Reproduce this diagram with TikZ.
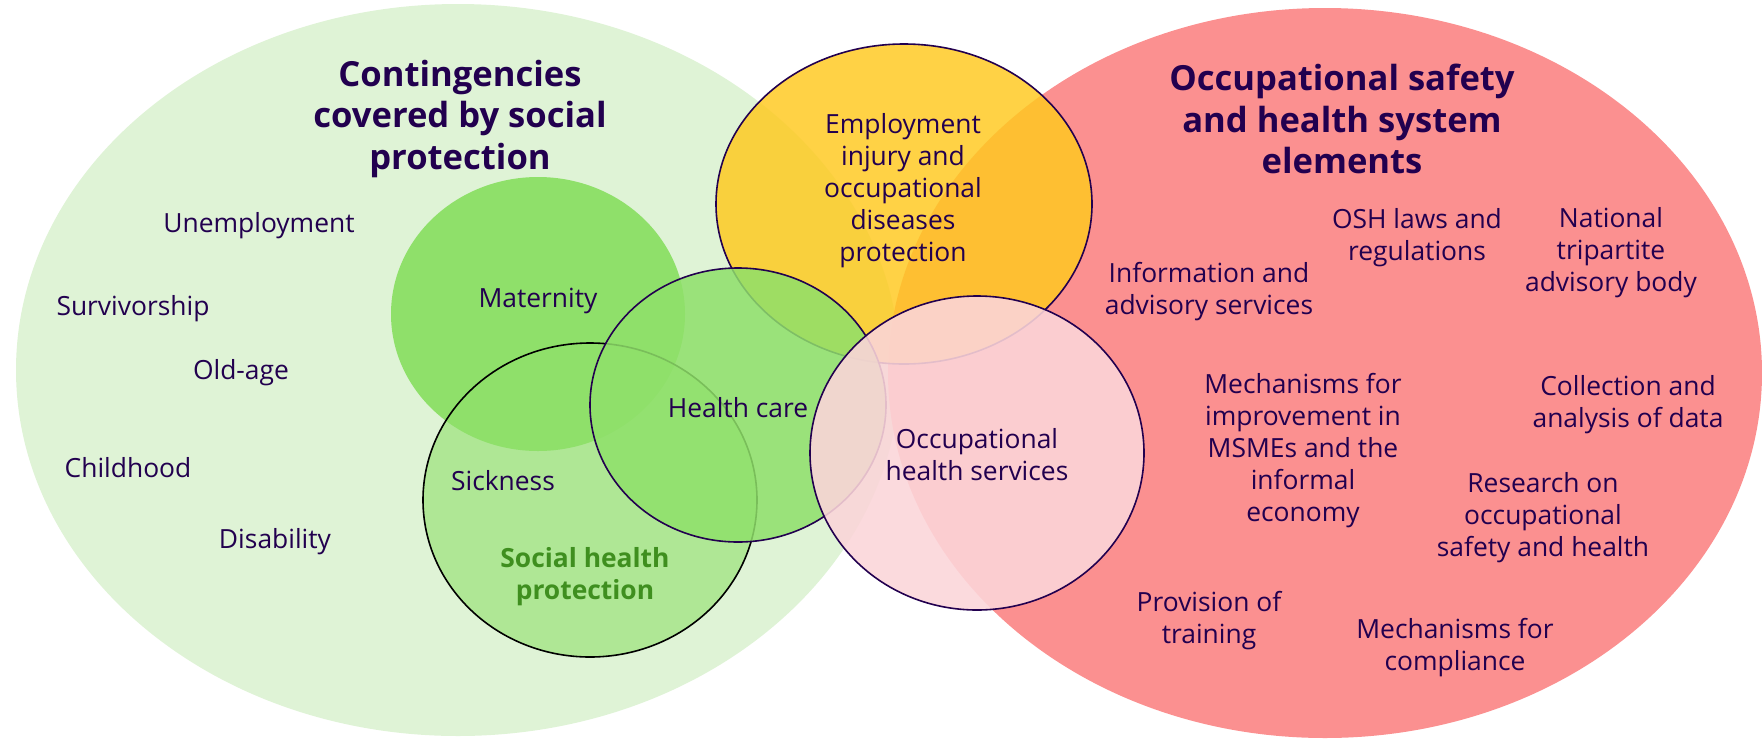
\documentclass[tikz,border=0pt]{standalone}
\usepackage{fontspec}
\setmainfont{Open Sans}
\usepackage{tikz}

\definecolor{ink}{HTML}{22004F}
\definecolor{paleGreen}{HTML}{DFF3D6}
\definecolor{salmon}{HTML}{FB9090}
\definecolor{midGreen}{HTML}{8FE06A}
\definecolor{sunYellow}{HTML}{FFC91F}
\definecolor{blush}{HTML}{FBD5D9}
\definecolor{leafText}{HTML}{3F8F1F}

\tikzset{
  item/.style={text=ink, align=center, inner sep=0pt, font=\fontsize{13.2}{16}\selectfont},
  head/.style={text=ink, align=center, inner sep=0pt, font=\bfseries\fontsize{17.3}{20.75}\selectfont},
  rim/.style={draw=ink, line width=0.8pt}
}

\begin{document}
\begin{tikzpicture}[x=0.5pt,y=-0.5pt]
\useasboundingbox (0,0) rectangle (1762,740);
% the two big sets
\fill[paleGreen] (458,370) ellipse [x radius=442, y radius=366];
\fill[salmon] (1325,373) ellipse [x radius=437, y radius=365];
% inner circles
\fill[midGreen] (538,314) ellipse [x radius=147, y radius=137];
\filldraw[fill=midGreen, fill opacity=0.6, draw=black, line width=0.8pt] (590,500) ellipse [x radius=167, y radius=157];
\filldraw[rim, fill=sunYellow, fill opacity=0.83] (904,204) ellipse [x radius=188, y radius=160];
\filldraw[rim, fill=midGreen, fill opacity=0.85] (738,405) ellipse [x radius=148, y radius=137];
\filldraw[rim, fill=blush, fill opacity=0.89] (977,453) ellipse [x radius=167, y radius=157];

% left side
\node[head] (socTitle) at (460,119) {Contingencies\\covered by social\\protection};
\node[item] (unemp) at (259,226) {Unemployment};
\node[item] (surviv) at (133,309) {Survivorship};
\node[item] (oldage) at (241,373) {Old-age};
\node[item] (child) at (128,468) {Childhood};
\node[item] (disab) at (275,542) {Disability};
\node[item] (matern) at (538,301) {Maternity};
\node[item] (sick) at (503,481) {Sickness};
\node[head, text=leafText, font=\bfseries\fontsize{13.2}{16}\selectfont] (shp) at (585,577) {Social health\\protection};
\node[item] (hcare) at (738,408) {Health care};
\node[item] (injury) at (903,191) {Employment\\injury and\\occupational\\diseases\\protection};
\node[item] (ohs) at (977,455) {Occupational\\health services};

% right side
\node[head] (oshTitle) at (1342,119) {Occupational safety\\and health system\\elements};
\node[item] (laws) at (1417,238) {OSH laws and\\regulations};
\node[item] (tripart) at (1611,253) {National\\tripartite\\advisory body};
\node[item] (info) at (1209,292) {Information and\\advisory services};
\node[item] (msme) at (1303,451) {Mechanisms for\\improvement in\\MSMEs and the\\informal\\economy};
\node[item] (data) at (1628,405) {Collection and\\analysis of data};
\node[item] (research) at (1543,518) {Research on\\occupational\\safety and health};
\node[item] (training) at (1209,621) {Provision of\\training};
\node[item] (comply) at (1455,648) {Mechanisms for\\compliance};
\end{tikzpicture}
\end{document}
